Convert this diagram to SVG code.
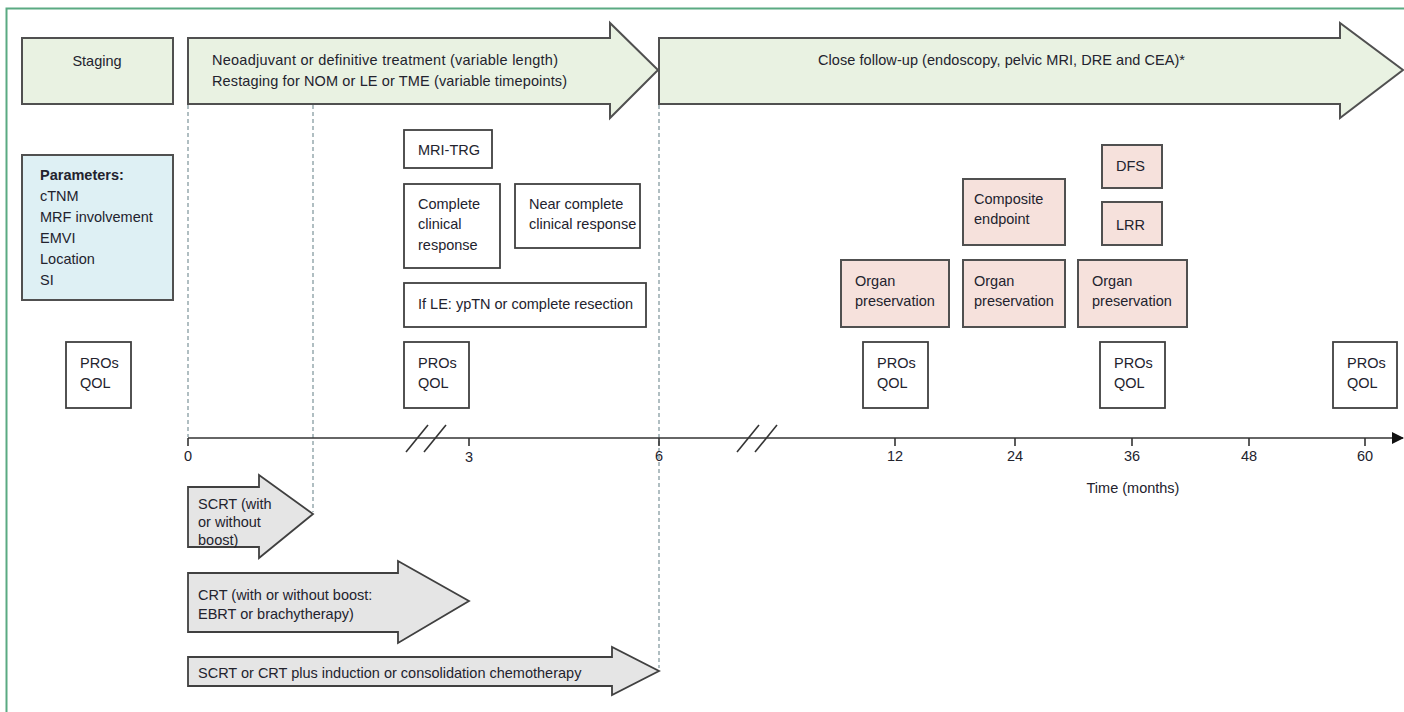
<svg xmlns="http://www.w3.org/2000/svg" width="1404" height="712" viewBox="0 0 1404 712">
<defs>
<style>
text{font-family:"Liberation Sans",Arial,sans-serif;font-size:14.5px;fill:#23232e}
.g{fill:#e9f2e2;stroke:#505050;stroke-width:2}
.b{fill:#def0f4;stroke:#505050;stroke-width:2}
.p{fill:#f6e1dc;stroke:#505050;stroke-width:2}
.w{fill:#fff;stroke:#404040;stroke-width:1.8}
.gr{fill:#e5e5e5;stroke:#404040;stroke-width:1.8}
.d{stroke:#8fa3a8;stroke-width:1.4;stroke-dasharray:4 3;fill:none}
.ax{stroke:#333;stroke-width:1.6;fill:none}
.t{text-anchor:middle}
</style>
<marker id="ah" markerWidth="12" markerHeight="12" refX="11" refY="6" orient="auto" markerUnits="userSpaceOnUse"><path d="M0,0 L12,6 L0,12 Z" fill="#111"/></marker>
</defs>
<rect width="1404" height="712" fill="#fff"/>
<path d="M6.5,712 V8.5 H1404" fill="none" stroke="#5aaa82" stroke-width="2"/>

<g id="connectors">
<line class="d" x1="188" y1="105" x2="188" y2="437"/>
<line class="d" x1="313" y1="105" x2="313" y2="512"/>
<line class="d" x1="659" y1="105" x2="659" y2="668"/>
<line class="ax" x1="188" y1="438" x2="1403" y2="438" marker-end="url(#ah)"/>
<g class="ax">
<line x1="188" y1="438" x2="188" y2="446"/>
<line x1="469" y1="438" x2="469" y2="446"/>
<line x1="659" y1="438" x2="659" y2="446"/>
<line x1="895" y1="438" x2="895" y2="446"/>
<line x1="1015" y1="438" x2="1015" y2="446"/>
<line x1="1132" y1="438" x2="1132" y2="446"/>
<line x1="1249" y1="438" x2="1249" y2="446"/>
<line x1="1365" y1="438" x2="1365" y2="446"/>
</g>
<g class="ax">
<line x1="406" y1="452" x2="428" y2="425"/>
<line x1="424" y1="452" x2="446" y2="425"/>
<line x1="737" y1="452" x2="759" y2="425"/>
<line x1="755" y1="452" x2="777" y2="425"/>
</g>
<text class="t" x="188" y="461">0</text>
<text class="t" x="469" y="462">3</text>
<text class="t" x="659" y="461">6</text>
<text class="t" x="895" y="461">12</text>
<text class="t" x="1015" y="461">24</text>
<text class="t" x="1132" y="461">36</text>
<text class="t" x="1249" y="461">48</text>
<text class="t" x="1365" y="461">60</text>
<text class="t" x="1133" y="493">Time (months)</text>
</g>

<g id="staging">
<rect class="g" x="22" y="38" width="151" height="66"/>
<text class="t" x="97" y="66">Staging</text>
</g>
<g id="neoadjuvant">
<path class="g" d="M188,38 H610 V23 L658,70 L610,118 V104 H188 Z"/>
<text x="212" y="65" textLength="346">Neoadjuvant or definitive treatment (variable length)</text>
<text x="212" y="86" textLength="355">Restaging for NOM or LE or TME (variable timepoints)</text>
</g>
<g id="followup">
<path class="g" d="M659,38 H1340 V23 L1403,70 L1340,118 V104 H659 Z"/>
<text x="818" y="65" textLength="367">Close follow-up (endoscopy, pelvic MRI, DRE and CEA)*</text>
</g>

<g id="parameters">
<rect class="b" x="22" y="155" width="151" height="145"/>
<text x="40" y="180" font-weight="bold">Parameters:</text>
<text x="40" y="201">cTNM</text>
<text x="40" y="222">MRF involvement</text>
<text x="40" y="243">EMVI</text>
<text x="40" y="264">Location</text>
<text x="40" y="285">SI</text>
</g>

<g id="pros0"><rect class="w" x="66" y="342" width="65" height="66"/><text x="80" y="368">PROs</text><text x="80" y="388">QOL</text></g>
<g id="pros3"><rect class="w" x="404" y="342" width="65" height="66"/><text x="418" y="368">PROs</text><text x="418" y="388">QOL</text></g>
<g id="pros12"><rect class="w" x="863" y="342" width="65" height="66"/><text x="877" y="368">PROs</text><text x="877" y="388">QOL</text></g>
<g id="pros36"><rect class="w" x="1100" y="342" width="65" height="66"/><text x="1114" y="368">PROs</text><text x="1114" y="388">QOL</text></g>
<g id="pros60"><rect class="w" x="1333" y="342" width="64" height="66"/><text x="1347" y="368">PROs</text><text x="1347" y="388">QOL</text></g>

<g id="mritrg"><rect class="w" x="404" y="130" width="88" height="38"/><text x="418" y="155">MRI-TRG</text></g>
<g id="ccr"><rect class="w" x="404" y="184" width="96" height="84"/><text x="418" y="209">Complete</text><text x="418" y="229">clinical</text><text x="418" y="250">response</text></g>
<g id="nccr"><rect class="w" x="515" y="184" width="125" height="64"/><text x="529" y="209">Near complete</text><text x="529" y="229">clinical response</text></g>
<g id="ifle"><rect class="w" x="404" y="283" width="242" height="44"/><text x="418" y="309">If LE: ypTN or complete resection</text></g>

<g id="op12"><rect class="p" x="841" y="260" width="108" height="67"/><text x="855" y="286">Organ</text><text x="855" y="306">preservation</text></g>
<g id="composite"><rect class="p" x="963" y="179" width="102" height="66"/><text x="974" y="204">Composite</text><text x="974" y="224">endpoint</text></g>
<g id="op24"><rect class="p" x="963" y="260" width="102" height="67"/><text x="974" y="286">Organ</text><text x="974" y="306">preservation</text></g>
<g id="dfs"><rect class="p" x="1102" y="145" width="60" height="43"/><text x="1116" y="171">DFS</text></g>
<g id="lrr"><rect class="p" x="1102" y="202" width="60" height="43"/><text x="1116" y="230">LRR</text></g>
<g id="op36"><rect class="p" x="1078" y="260" width="109" height="67"/><text x="1092" y="286">Organ</text><text x="1092" y="306">preservation</text></g>

<g id="scrt">
<path class="gr" d="M188,487 H259 V475 L313,514 L259,558 V547 H188 Z"/>
<text x="198" y="509">SCRT (with</text><text x="198" y="527">or without</text><text x="198" y="545">boost)</text>
</g>
<g id="crt">
<path class="gr" d="M188,573 H398 V561 L469,601 L398,643 V632 H188 Z"/>
<text x="198" y="600">CRT (with or without boost:</text><text x="198" y="619">EBRT or brachytherapy)</text>
</g>
<g id="chemo">
<path class="gr" d="M188,657 H612 V647 L659,671 L612,695 V686 H188 Z"/>
<text x="198" y="678">SCRT or CRT plus induction or consolidation chemotherapy</text>
</g>
</svg>
